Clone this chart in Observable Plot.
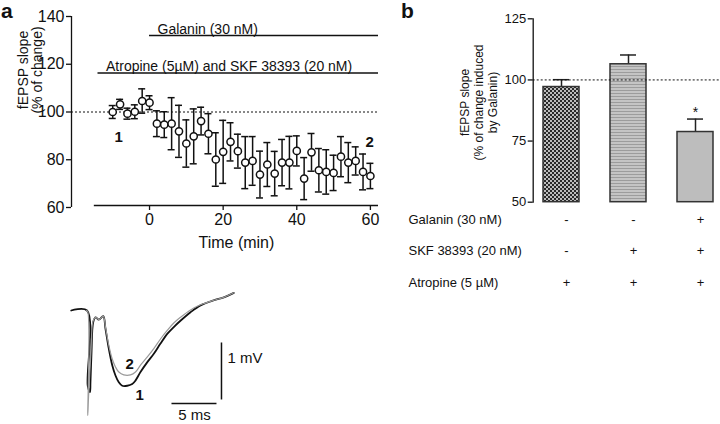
<!DOCTYPE html>
<html><head><meta charset="utf-8">
<script src="https://cdn.jsdelivr.net/npm/d3@7"></script>
<script src="https://cdn.jsdelivr.net/npm/@observablehq/plot@0.6"></script>
<style>
body{margin:0;background:#fff;}
#root{position:relative;width:720px;height:424px;overflow:hidden;background:#fff;font-family:"Liberation Sans",Arial,sans-serif;color:#111;}
.panel{position:absolute;}
.plabel{position:absolute;font-weight:bold;font-size:21px;line-height:21px;}
</style></head><body>
<div id="root">
  <div class="plabel" style="left:1px;top:0px;">a</div>
  <div class="plabel" style="left:401px;top:0px;">b</div>
</div>
<script>
// ---------- Panel a: time course ----------
const times = [-10,-8,-6,-4,-2,0,2,4,6,8,10,12,14,16,18,20,22,24,26,28,30,32,34,36,38,40,42,44,46,48,50,52,54,56,58,60];
const slopeMeans = [100.0,103.2,99.3,100.1,104.6,103.9,95.1,94.7,95.1,91.9,86.8,89.8,96.2,90.9,80.1,83.3,87.5,83.6,78.8,79.5,73.8,78.0,74.2,78.8,78.8,83.7,72.1,83.1,75.6,74.9,74.5,81.3,78.8,79.5,74.9,73.2];
const slopeSEM = [2.7,2.1,2.3,2.9,5.1,2.9,5.4,5.4,10.9,10.9,9.9,11.5,5.8,8.4,11.2,13.2,8.0,7.1,10.9,10.2,9.8,9.2,9.3,9.7,11.0,6.3,8.8,7.9,9.1,9.3,7.4,8.4,8.4,5.9,7.5,5.3];
const timeTicks = [0,20,40,60];
const slopeTicks = [60,80,100,120,140];
const drugLabels = ["Galanin (30 nM)","Atropine (5\u00b5M) and SKF 38393 (20 nM)"];
const drugStarts = [0,-14];
const drugLevels = [132,116.3];
const pointLabels = ["1","2"];
const pointLabelT = [-8.4,59.8];
const pointLabelY = [89.4,87.3];

// ---------- Panel b: bars ----------
const conditions = ["c1","c2","c3"];
const barMeans = [97.1,106.4,78.7];
const barSEM = [3.0,3.8,5.3];
const barSig = ["","","*"];
const barTicks = [50,75,100,125];
const rowLabels = ["Galanin (30 nM)","SKF 38393 (20 nM)","Atropine (5 \u00b5M)"];
const galaninRow = ["-","-","+"];
const skfRow = ["-","+","+"];
const atropineRow = ["+","+","+"];

// ---------- Traces ----------
const trace1T = [0,1.76,1.84,2.09,2.14,2.26,2.44,2.70,3.07,3.56,3.81,4.18,4.56,4.92,5.29,5.67,6.22,6.78,7.14,7.70,8.44,9.18,9.92,10.67,11.40,12.14,13.26,14.37,15.84,16.96,18.07];
const trace1V = [0,0,-1.32,-1.43,-1.26,-0.73,-0.21,-0.12,-0.16,-0.10,-0.32,-0.67,-0.96,-1.14,-1.26,-1.32,-1.32,-1.29,-1.23,-1.08,-0.91,-0.76,-0.58,-0.41,-0.29,-0.18,-0.03,0.09,0.18,0.23,0.31];
const trace2T = [1.70,1.84,1.84,1.92,2.20,2.42,2.70,3.07,3.56,3.81,4.18,4.56,4.92,5.29,5.84,6.59,7.14,7.70,8.44,9.18,9.92,10.67,11.40,12.14,13.26,14.37,15.84,16.96,18.07];
const trace2V = [0,-0.02,-1.84,-1.54,-0.70,-0.19,-0.12,-0.16,-0.10,-0.29,-0.61,-0.85,-0.99,-1.08,-1.13,-1.13,-1.08,-0.96,-0.82,-0.67,-0.50,-0.35,-0.22,-0.12,0.01,0.10,0.18,0.23,0.31];
const traceLabels = ["1","2"];
const traceLabelT = [7.6,6.5];
const traceLabelV = [-1.49,-0.95];
const scaleBarMs = 5;
const scaleBarMV = 1;

const FONT = '"Liberation Sans", Arial, sans-serif';
const root = document.getElementById("root");
function place(svg, left, top) {
  const d = document.createElement("div");
  d.className = "panel"; d.style.left = left + "px"; d.style.top = top + "px";
  d.appendChild(svg); root.appendChild(d);
}

// Panel a
const ptsA = times.map((t, i) => ({t, m: slopeMeans[i], e: slopeSEM[i]}));
const xDomA = [-21.2, 62.2];
const xAxisExtent = [-15, 62.2];
const drugIdx = drugLabels.map((_, i) => i);
const yLabelPosA = [-32.4, 117.6];
const plotA = Plot.plot({
  width: 400, height: 262,
  marginLeft: 71, marginRight: 22, marginTop: 16, marginBottom: 55,
  style: {fontFamily: FONT, fontSize: "15px", color: "#111", background: "transparent"},
  x: {domain: xDomA},
  y: {domain: [60, 140]},
  marks: [
    Plot.ruleX([xDomA[0]], {y1: 60, y2: 140, stroke: "#111", strokeWidth: 1.3}),
    Plot.axisY({ticks: slopeTicks, tickSize: 5, tickPadding: 2, label: null, fontSize: 16, strokeWidth: 1.3}),
    Plot.ruleY([60], {x1: xAxisExtent[0], x2: xAxisExtent[1], dy: -2, stroke: "#111", strokeWidth: 1.5}),
    Plot.axisX({ticks: timeTicks, tickSize: 5, tickPadding: 3, label: null, dy: -2, fontSize: 16, strokeWidth: 1.3, tickFormat: d => String(d)}),
    Plot.text(["Time (min)"], {x: (xAxisExtent[0] + xAxisExtent[1]) / 2, frameAnchor: "bottom", dy: 40, fontSize: 16}),
    Plot.text(["fEPSP slope\n(% of change)"], {x: yLabelPosA[0], y: yLabelPosA[1], rotate: -90, lineHeight: 1.05, fontSize: 14, textAnchor: "middle", lineAnchor: "middle"}),
    Plot.ruleY([100], {stroke: "#111", strokeWidth: 1, strokeDasharray: "2,2"}),
    Plot.ruleY(drugIdx, {y: i => drugLevels[i], x1: i => drugStarts[i], x2: xDomA[1], stroke: "#111", strokeWidth: 1.5}),
    Plot.text(drugIdx, {x: i => drugStarts[i], y: i => drugLevels[i], text: i => drugLabels[i], textAnchor: "start", lineAnchor: "bottom", dx: 8, dy: -2, fontSize: 14}),
    Plot.ruleX(ptsA, {x: "t", y1: d => d.m - d.e, y2: d => d.m + d.e, stroke: "#111", strokeWidth: 1.5}),
    Plot.ruleY(ptsA, {x1: "t", x2: "t", y: d => d.m + d.e, insetLeft: -3.5, insetRight: -3.5, stroke: "#111", strokeWidth: 1.5}),
    Plot.ruleY(ptsA, {x1: "t", x2: "t", y: d => d.m - d.e, insetLeft: -3.5, insetRight: -3.5, stroke: "#111", strokeWidth: 1.5}),
    Plot.dot(ptsA, {x: "t", y: "m", r: 3.6, fill: "white", stroke: "#111", strokeWidth: 1.5}),
    Plot.text(pointLabels, {x: (d, i) => pointLabelT[i], y: (d, i) => pointLabelY[i], text: d => d, fontWeight: "bold", fontSize: 15})
  ]
});
place(plotA, 0, 0);

// Panel b
const dataB = conditions.map((c, i) => ({c, m: barMeans[i], e: barSEM[i], s: barSig[i]}));
const barFills = ["url(#patChk)", "url(#patLines)", "#bdbdbd"];
const rowOffsets = [17.3, 48.3, 80.6];
const rowSymbols = [galaninRow, skfRow, atropineRow];
const marksB = [
  Plot.frame({anchor: "left", stroke: "#111", strokeWidth: 1.3}),
  Plot.axisY({ticks: barTicks, tickSize: 5, tickPadding: 2, label: null, fontSize: 13, strokeWidth: 1.3}),
  Plot.text(["fEPSP slope\n(% of change induced\nby Galanin)"], {frameAnchor: "top-left", dx: -54.7, dy: 83.7, rotate: -90, lineHeight: 1.15, fontSize: 12, textAnchor: "middle", lineAnchor: "middle"}),
  Plot.ruleX(dataB, {x: "c", y1: "m", y2: d => d.m + d.e, stroke: "#222", strokeWidth: 1.5}),
  Plot.tickY(dataB, {x: "c", y: d => d.m + d.e, insetLeft: 10, insetRight: 10, stroke: "#222", strokeWidth: 1.5}),
  Plot.barY(dataB, {x: "c", y1: 50, y2: "m", fill: (d, i) => barFills[i], stroke: "#333", strokeWidth: 1.5}),
  Plot.ruleY([100], {stroke: "#111", strokeWidth: 1, strokeDasharray: "2,2"}),
  Plot.text(dataB, {x: "c", y: d => d.m + d.e, text: "s", dy: -7, fontSize: 14, lineAnchor: "middle"})
];
rowLabels.forEach((lab, r) => {
  marksB.push(Plot.text([lab], {frameAnchor: "bottom-left", dx: 8 - 132.7, dy: rowOffsets[r], textAnchor: "start", lineAnchor: "middle", fontSize: 13}));
  marksB.push(Plot.text(conditions, {x: d => d, text: (d, i) => rowSymbols[r][i], frameAnchor: "bottom", dy: rowOffsets[r], dx: 5, lineAnchor: "middle", fontSize: 13}));
});
const plotB = Plot.plot({
  width: 320, height: 300,
  marginLeft: 132.7, marginRight: 0, marginTop: 18.3, marginBottom: 98.3,
  style: {fontFamily: FONT, fontSize: "13px", color: "#111", background: "transparent"},
  x: {type: "band", domain: conditions, range: [132.7, 322.3], paddingInner: 0.467, paddingOuter: 0.138, axis: null},
  y: {domain: [50, 125]},
  color: {type: "identity"},
  marks: marksB
});
(function addPatterns(svg) {
  const NS = "http://www.w3.org/2000/svg";
  const defs = document.createElementNS(NS, "defs");
  function el(tag, attrs, parent) {
    const e = document.createElementNS(NS, tag);
    for (const k in attrs) e.setAttribute(k, attrs[k]);
    parent.appendChild(e); return e;
  }
  const p1 = el("pattern", {id: "patChk", width: 4, height: 4, patternUnits: "userSpaceOnUse"}, defs);
  el("rect", {width: 4, height: 4, fill: "#bdbdbd"}, p1);
  el("rect", {x: 0, y: 0, width: 2, height: 2, fill: "#2a2a2a"}, p1);
  el("rect", {x: 2, y: 2, width: 2, height: 2, fill: "#2a2a2a"}, p1);
  const p2 = el("pattern", {id: "patLines", width: 4, height: 3, patternUnits: "userSpaceOnUse"}, defs);
  el("rect", {width: 4, height: 3, fill: "#c4c4c4"}, p2);
  el("rect", {x: 0, y: 0, width: 4, height: 1, fill: "#9c9c9c"}, p2);
  svg.insertBefore(defs, svg.firstChild);
})(plotB);
place(plotB, 400, 0);

// Traces
const tr1 = trace1T.map((t, i) => ({t, v: trace1V[i]}));
const tr2 = trace2T.map((t, i) => ({t, v: trace2V[i]}));
const barT = [11.2, 16.7];
const barV = [-1.63, -0.57];
const plotC = Plot.plot({
  width: 230, height: 139,
  marginLeft: 0, marginRight: 0, marginTop: 0, marginBottom: 0,
  style: {fontFamily: FONT, fontSize: "15px", color: "#111", background: "transparent"},
  x: {domain: [-1.189, 24.37], axis: null},
  y: {domain: [-2.0, 0.4386], axis: null},
  marks: [
    Plot.line(tr1, {x: "t", y: "v", stroke: "#111", strokeWidth: 1.8, curve: "catmull-rom"}),
    Plot.line(tr2, {x: "t", y: "v", stroke: "#9a9a9a", strokeWidth: 1.2, curve: "catmull-rom"}),
    Plot.ruleX([barT[1]], {y1: barV[1], y2: barV[1] - scaleBarMV, stroke: "#111", strokeWidth: 1.5}),
    Plot.ruleY([barV[0]], {x1: barT[0], x2: barT[0] + scaleBarMs, stroke: "#111", strokeWidth: 1.5}),
    Plot.text([scaleBarMV + " mV"], {x: barT[1], y: barV[1] - scaleBarMV * 0.27, dx: 6, textAnchor: "start", fontSize: 15}),
    Plot.text([scaleBarMs + " ms"], {x: barT[0] + scaleBarMs / 2, y: barV[0], dy: 12, fontSize: 15}),
    Plot.text(traceLabels, {x: (d, i) => traceLabelT[i], y: (d, i) => traceLabelV[i], text: d => d, fontWeight: "bold", fontSize: 15})
  ]
});
place(plotC, 60, 285);
</script>
</body></html>
